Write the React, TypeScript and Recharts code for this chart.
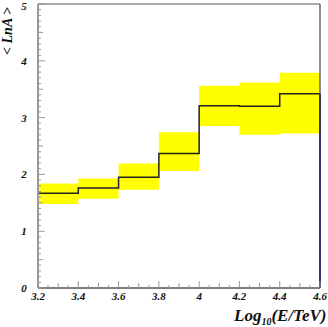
import React from 'react';
import { ComposedChart, Area, Line, XAxis, YAxis, ReferenceLine } from 'recharts';

// Bin edges in log10(E/TeV)
const binEdges = [3.2, 3.4, 3.6, 3.8, 4.0, 4.2, 4.4, 4.6];
// Mean <LnA> per bin
const meanLnA = [1.67, 1.76, 1.95, 2.37, 3.21, 3.2, 3.42];
// Systematic band per bin
const bandLow = [1.48, 1.57, 1.73, 2.06, 2.85, 2.7, 2.72];
const bandHigh = [1.84, 1.93, 2.19, 2.74, 3.56, 3.62, 3.79];
// Tick labels
const xTickLabels = [3.2, 3.4, 3.6, 3.8, 4, 4.2, 4.4, 4.6];
const yTickLabels = [0, 1, 2, 3, 4, 5];

const W = 328;
const H = 327;
const MARGIN = { top: 4, right: 8, left: 0, bottom: 0 };
const Y_AXIS_W = 38;
const X_AXIS_H = 39;
const PLOT_LEFT = MARGIN.left + Y_AXIS_W;
const PLOT_BOTTOM = H - MARGIN.bottom - X_AXIS_H;

const data = binEdges.map((x, i) => {
  const j = Math.min(i, meanLnA.length - 1);
  return { x, mean: meanLnA[j], band: [bandLow[j], bandHigh[j]] };
});

const xMinorTicks: number[] = [];
for (let k = 0; k <= 28; k++) xMinorTicks.push(Math.round((3.2 + k * 0.05) * 100) / 100);
const yMinorTicks: number[] = [];
for (let k = 0; k <= 50; k++) yMinorTicks.push(Math.round(k * 0.1 * 10) / 10);

const near = (a: number, b: number) => Math.abs(a - b) < 1e-6;
const FONT = "'Liberation Serif', 'DejaVu Serif', serif";

const XTick = (props: any) => {
  const { x, payload } = props;
  const v = payload.value as number;
  const major = xTickLabels.some((t) => near(t, v));
  const half = !major && near(Math.round(v * 10) / 10, v);
  const len = major ? 7 : half ? 5 : 3;
  return (
    <g>
      <line x1={x} x2={x} y1={PLOT_BOTTOM} y2={PLOT_BOTTOM - len} stroke="#999" strokeWidth={1} />
      {major && (
        <text x={x} y={300} textAnchor="middle" fontFamily={FONT} fontStyle="italic" fontWeight="bold" fontSize={11} fill="#111">
          {String(v)}
        </text>
      )}
    </g>
  );
};

const YTick = (props: any) => {
  const { y, payload } = props;
  const v = payload.value as number;
  const major = yTickLabels.some((t) => near(t, v));
  const half = !major && near(Math.round(v * 2) / 2, v);
  const len = major ? 7 : half ? 5 : 3;
  return (
    <g>
      <line x1={PLOT_LEFT} x2={PLOT_LEFT + len} y1={y} y2={y} stroke="#999" strokeWidth={1} />
      {major && (
        <text x={24} y={Math.max(y + 4, 10)} textAnchor="middle" fontFamily={FONT} fontStyle="italic" fontWeight="bold" fontSize={11} fill="#111">
          {String(v)}
        </text>
      )}
    </g>
  );
};

export default function App() {
  return (
    <div style={{ position: 'absolute', left: 0, top: 0, width: W, height: H, background: '#fff' }}>
      <ComposedChart width={W} height={H} data={data} margin={MARGIN}>
        <XAxis
          dataKey="x"
          type="number"
          domain={[3.2, 4.6]}
          ticks={xMinorTicks}
          interval={0}
          height={X_AXIS_H}
          tickLine={false}
          tick={<XTick />}
          axisLine={{ stroke: '#555', strokeWidth: 1.5 }}
          allowDataOverflow
        />
        <YAxis
          type="number"
          domain={[0, 5]}
          ticks={yMinorTicks}
          interval={0}
          width={Y_AXIS_W}
          tickLine={false}
          tick={<YTick />}
          axisLine={{ stroke: '#999', strokeWidth: 2 }}
          allowDataOverflow
        />
        <Area
          dataKey="band"
          type="stepAfter"
          fill="#ffff00"
          fillOpacity={1}
          stroke="none"
          isAnimationActive={false}
        />
        <Line
          dataKey="mean"
          type="stepAfter"
          stroke="#222"
          strokeWidth={1.5}
          dot={false}
          isAnimationActive={false}
        />
        <ReferenceLine y={5} stroke="#aaa" strokeWidth={2} ifOverflow="visible" />
        <ReferenceLine x={4.6} stroke="#667" strokeWidth={1.5} ifOverflow="visible" />
        <ReferenceLine
          segment={[{ x: binEdges[0], y: 0 }, { x: binEdges[0], y: meanLnA[0] }]}
          stroke="#1a1a66"
          strokeWidth={2}
          ifOverflow="visible"
        />
        <ReferenceLine
          segment={[{ x: binEdges[0], y: meanLnA[0] }, { x: binEdges[0], y: bandHigh[0] }]}
          stroke="#e03030"
          strokeWidth={2}
          ifOverflow="visible"
        />
        <ReferenceLine
          segment={[{ x: binEdges[binEdges.length - 1], y: 0 }, { x: binEdges[binEdges.length - 1], y: meanLnA[meanLnA.length - 1] }]}
          stroke="#1a1a66"
          strokeWidth={1.5}
          ifOverflow="visible"
        />
      </ComposedChart>
      <svg width={W} height={H} style={{ position: 'absolute', left: 0, top: 0, pointerEvents: 'none' }}>
        <text
          transform="translate(12,31) rotate(-90)"
          textAnchor="middle"
          fontFamily={FONT}
          fontStyle="italic"
          fontWeight="bold"
          fontSize={14}
          fill="#111"
        >
          {'< LnA >'}
        </text>
        <text x={234} y={321} fontFamily={FONT} fontStyle="italic" fontWeight="bold" fontSize={17} fill="#111">
          <tspan>Log</tspan>
          <tspan dy={4} fontSize={10}>10</tspan>
          <tspan dy={-4}>(E/TeV)</tspan>
        </text>
      </svg>
    </div>
  );
}
